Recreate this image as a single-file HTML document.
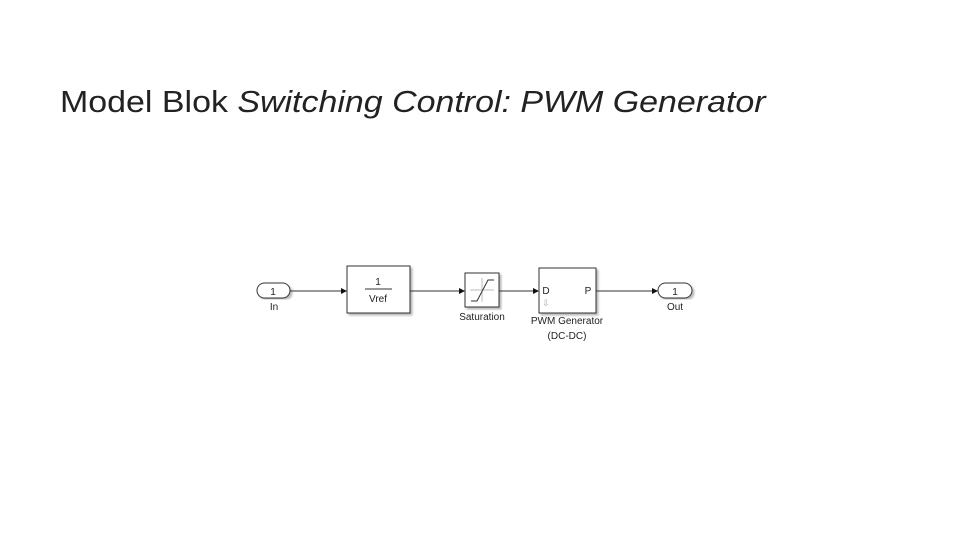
<!DOCTYPE html>
<html><head><meta charset="utf-8"><style>
body{margin:0;width:960px;height:540px;background:#fff;overflow:hidden;position:relative;font-family:"Liberation Sans",sans-serif}
.t{position:absolute;left:60px;top:84px;font-size:31px;color:#222;white-space:nowrap;transform:scaleX(1.095);transform-origin:0 0}
</style></head><body>
<div class="t">Model Blok <i>Switching Control: PWM Generator</i></div>
<svg width="960" height="540" style="position:absolute;left:0;top:0" font-family="Liberation Sans, sans-serif">
<defs><filter id="s"><feDropShadow dx="2" dy="2" stdDeviation="1" flood-color="#999" flood-opacity="0.7"/></filter></defs>
<g stroke="#333" stroke-width="1" fill="#fff">
<rect x="257" y="283" width="33" height="15" rx="7.5" filter="url(#s)"/>
<rect x="347" y="266" width="63" height="47" filter="url(#s)"/>
<rect x="465" y="273" width="34" height="34" filter="url(#s)"/>
<rect x="539" y="268" width="57" height="45" filter="url(#s)"/>
<rect x="658" y="283" width="34" height="15" rx="7.5" filter="url(#s)"/>
</g>
<g stroke="#333" stroke-width="1" fill="none">
<line x1="290" y1="291" x2="342" y2="291"/>
<line x1="410" y1="291" x2="460" y2="291"/>
<line x1="499" y1="291" x2="534" y2="291"/>
<line x1="596" y1="291" x2="653" y2="291"/>
<line x1="365" y1="289" x2="392" y2="289"/>
<line x1="470" y1="290" x2="494" y2="290" stroke="#bbb"/>
<line x1="482" y1="278" x2="482" y2="302" stroke="#bbb"/>
<polyline points="471,301 477,301 488,280 494,280"/>
</g>
<g fill="#111">
<polygon points="347,291 341,288 341,294"/>
<polygon points="465,291 459,288 459,294"/>
<polygon points="539,291 533,288 533,294"/>
<polygon points="658,291 652,288 652,294"/>
</g>
<g font-size="10" fill="#222" text-anchor="middle">
<text x="273" y="295">1</text>
<text x="274" y="310">In</text>
<text x="378" y="285">1</text>
<text x="378" y="302">Vref</text>
<text x="482" y="320">Saturation</text>
<text x="567" y="324">PWM Generator</text>
<text x="567" y="339">(DC-DC)</text>
<text x="675" y="295">1</text>
<text x="675" y="310">Out</text>
<text x="546" y="294">D</text>
<text x="588" y="294">P</text>
</g>
<text x="542" y="306" font-size="9" fill="#aaa">⇩</text>
</svg>
</body></html>
